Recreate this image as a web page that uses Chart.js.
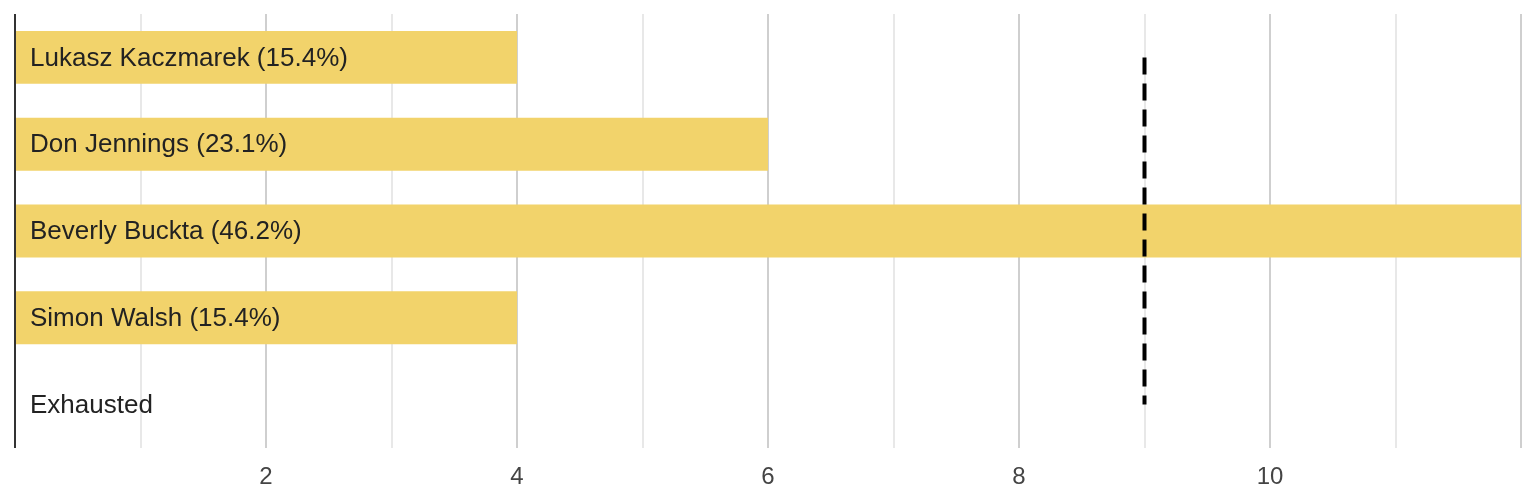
<!DOCTYPE html>
<html>
<head>
<meta charset="utf-8">
<script src="https://cdn.jsdelivr.net/npm/chart.js@4"></script>
<style>
html,body{margin:0;padding:0;background:#fff;}
#wrap{width:1536px;height:498px;position:relative;}
</style>
</head>
<body>
<div id="wrap"><canvas id="c"></canvas></div>
<script>
const categories = ["Lukasz Kaczmarek (15.4%)", "Don Jennings (23.1%)", "Beverly Buckta (46.2%)", "Simon Walsh (15.4%)", "Exhausted"];
const votes = [4, 6, 12, 4, 0];
const threshold = 9;
const xMax = 12;
const tickLabels = [2, 4, 6, 8, 10];

const FONT = "'Liberation Sans', Arial, sans-serif";

const overlay = {
  id: 'overlay',
  afterDatasetsDraw(chart) {
    const ctx = chart.ctx;
    const x = chart.scales.x, y = chart.scales.y;
    const tx = x.getPixelForValue(threshold);
    ctx.save();
    ctx.strokeStyle = '#000';
    ctx.lineWidth = 4;
    ctx.setLineDash([17, 9]);
    ctx.beginPath();
    ctx.moveTo(tx, y.getPixelForValue(0));
    ctx.lineTo(tx, y.getPixelForValue(categories.length - 1));
    ctx.stroke();
    ctx.restore();
    ctx.save();
    ctx.font = '26px ' + FONT;
    ctx.fillStyle = '#222';
    ctx.textBaseline = 'middle';
    ctx.textAlign = 'left';
    categories.forEach((c, i) => {
      ctx.fillText(c, x.getPixelForValue(0) + 15, y.getPixelForValue(i) + 1);
    });
    ctx.restore();
  }
};

new Chart(document.getElementById('c'), {
  type: 'bar',
  data: {
    labels: categories,
    datasets: [{
      data: votes,
      backgroundColor: '#f2d36b',
      borderWidth: 0,
      barPercentage: 0.61,
      categoryPercentage: 1
    }]
  },
  options: {
    indexAxis: 'y',
    responsive: true,
    maintainAspectRatio: false,
    animation: false,
    layout: { padding: { left: 10, right: 6, top: 14, bottom: 0 } },
    plugins: { legend: { display: false }, tooltip: { enabled: false } },
    scales: {
      x: {
        min: 0,
        max: xMax,
        border: { display: false },
        afterFit: s => { s.height = 50; },
        grid: {
          drawTicks: false,
          color: ctx => ctx.tick.value === 0 ? '#333' : (ctx.tick.value % 2 === 0 ? '#cfcfcf' : '#e8e8e8'),
          lineWidth: 2
        },
        ticks: {
          stepSize: 1,
          autoSkip: false,
          maxRotation: 0,
          padding: 15,
          color: '#444',
          font: { family: FONT, size: 24 },
          callback: v => tickLabels.includes(v) ? String(v) : ''
        }
      },
      y: {
        display: false
      }
    }
  },
  plugins: [overlay]
});
</script>
</body>
</html>
